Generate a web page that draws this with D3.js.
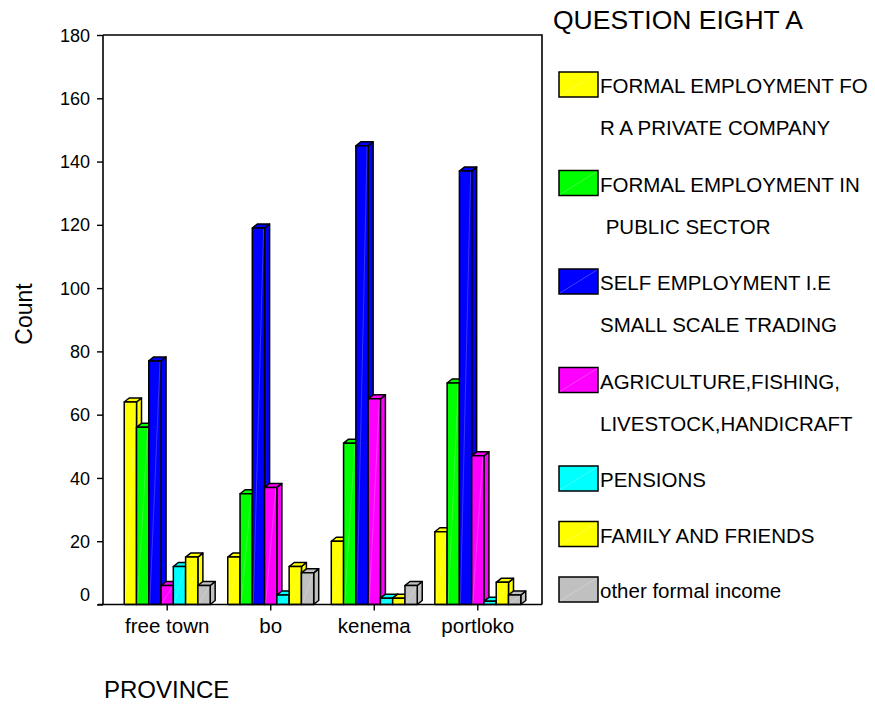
<!DOCTYPE html>
<html>
<head>
<meta charset="utf-8">
<script src="https://cdn.jsdelivr.net/npm/d3@7/dist/d3.min.js"></script>
<style>
  html, body { margin: 0; padding: 0; background: #fff; }
  svg { display: block; font-family: "Liberation Sans", Arial, sans-serif; }
  .legend text { white-space: pre; }
</style>
</head>
<body>
<svg id="chart" width="875" height="704"></svg>
<script>
// Provinces along the x axis
const provinces = ["free town", "bo", "kenema", "portloko"];

// Counts per income source, one value per province
const privateCompany  = [64, 15, 20, 23];
const publicSector    = [56, 35, 51, 70];
const selfEmployment  = [77, 119, 145, 137];
const agriculture     = [6, 37, 65, 47];
const pensions        = [12, 3, 2, 1];
const familyFriends   = [15, 12, 2, 7];
const otherFormal     = [6, 10, 6, 3];

// Legend text, wrapped the way the legend shows it
const legendLines = [
  ["FORMAL EMPLOYMENT FO", "R A PRIVATE COMPANY"],
  ["FORMAL EMPLOYMENT IN", " PUBLIC SECTOR"],
  ["SELF EMPLOYMENT I.E", "SMALL SCALE TRADING"],
  ["AGRICULTURE,FISHING,", "LIVESTOCK,HANDICRAFT"],
  ["PENSIONS"],
  ["FAMILY AND FRIENDS"],
  ["other formal income"]
];

const seriesColors = ["#ffff00", "#00ff00", "#0000ff", "#ff00ff", "#00ffff", "#ffff00", "#c0c0c0"];
const yTicks = [0, 20, 40, 60, 80, 100, 120, 140, 160, 180];

const seriesValues = [privateCompany, publicSector, selfEmployment, agriculture, pensions, familyFriends, otherFormal];
const series = seriesValues.map((vals, i) => ({ lines: legendLines[i], color: seriesColors[i], values: vals }));

const svg = d3.select("#chart");

// Plot frame
const plotLeft = 103, plotRight = 542, plotTop = 35, plotBottom = 604.5;

const x = d3.scaleBand().domain(provinces).range([plotLeft, plotRight]).paddingInner(0).paddingOuter(0.12);
const y = d3.scaleLinear().domain([0, 180]).range([plotBottom, plotTop]);

const barW = x.bandwidth() * 0.83 / series.length;
const depthX = 5, depthY = 4;

// Frame: top and right edges
svg.append("path")
  .attr("d", `M${plotLeft},${plotTop}H${plotRight}V${plotBottom}`)
  .attr("fill", "none").attr("stroke", "#000").attr("stroke-width", 1.6);

// Bars, drawn left to right so each front hides its neighbour's side
const gBars = svg.append("g");
provinces.forEach((p, pi) => {
  const cx = x(p) + x.bandwidth() / 2;
  const x0 = cx - barW * series.length / 2;
  series.forEach((s, si) => {
    const v = s.values[pi];
    const bx = x0 + si * barW;
    const yt = y(v), yb = y(0);
    const g = gBars.append("g")
      .attr("fill", s.color).attr("stroke", "#000")
      .attr("stroke-width", 1.5).attr("stroke-linejoin", "round");
    // side face
    g.append("path").attr("d",
      `M${bx + barW},${yb}L${bx + barW + depthX},${yb - depthY}L${bx + barW + depthX},${yt - depthY}L${bx + barW},${yt}Z`);
    // top face
    g.append("path").attr("d",
      `M${bx},${yt}L${bx + depthX},${yt - depthY}L${bx + barW + depthX},${yt - depthY}L${bx + barW},${yt}Z`);
    // front face
    g.append("rect").attr("x", bx).attr("y", yt).attr("width", barW).attr("height", yb - yt);
    // faint highlight diagonal
    gBars.append("line")
      .attr("x1", bx + 1).attr("y1", yb - 1).attr("x2", bx + barW - 1).attr("y2", yt + 1)
      .attr("stroke", "#fff").attr("stroke-opacity", 0.2).attr("stroke-width", 1);
  });
});

// Y axis
const yAxis = svg.append("g")
  .attr("transform", `translate(${plotLeft},0)`)
  .call(d3.axisLeft(y).tickValues(yTicks).tickSize(6).tickPadding(7).tickFormat(d3.format("d")));
yAxis.select(".domain").attr("d", `M0,${plotTop}V${plotBottom}`).attr("stroke-width", 1.6);
yAxis.selectAll(".tick line").attr("stroke-width", 1.4);
yAxis.selectAll(".tick text")
  .attr("font-size", 18).attr("font-family", "Liberation Sans, Arial, sans-serif").attr("fill", "#000")
  .attr("dy", d => d === 0 ? "-0.2em" : "0.34em");

// X axis
const xAxis = svg.append("g")
  .attr("transform", `translate(0,${plotBottom})`)
  .call(d3.axisBottom(x).tickSize(6).tickPadding(8));
xAxis.select(".domain").attr("d", `M${plotLeft - 5},0H${plotRight}`).attr("stroke-width", 1.6);
xAxis.selectAll(".tick line").attr("stroke-width", 1.4);
xAxis.selectAll(".tick text")
  .attr("font-size", 20.5).attr("font-family", "Liberation Sans, Arial, sans-serif").attr("fill", "#000");

// Axis titles
svg.append("text")
  .attr("transform", "translate(32,314) rotate(-90)")
  .attr("text-anchor", "middle").attr("font-size", 23).text("Count");
svg.append("text")
  .attr("x", 104).attr("y", 698).attr("font-size", 24).text("PROVINCE");

// Legend
const legend = svg.append("g").attr("class", "legend");
legend.append("text")
  .attr("x", 553).attr("y", 29).attr("font-size", 26.5).text("QUESTION EIGHT A");

let ly = 72;
series.forEach(s => {
  const g = legend.append("g").attr("transform", `translate(559,${ly})`);
  g.append("rect").attr("width", 39).attr("height", 25)
    .attr("fill", s.color).attr("stroke", "#000").attr("stroke-width", 1.5);
  g.append("line").attr("x1", 1).attr("y1", 24).attr("x2", 38).attr("y2", 1)
    .attr("stroke", "#fff").attr("stroke-opacity", 0.25).attr("stroke-width", 1);
  s.lines.forEach((line, li) => {
    g.append("text")
      .attr("x", 41).attr("y", 21 + li * 42)
      .attr("font-size", 20.5).text(line);
  });
  ly += s.lines.length > 1 ? 98.5 : 55.5;
});
</script>
</body>
</html>
